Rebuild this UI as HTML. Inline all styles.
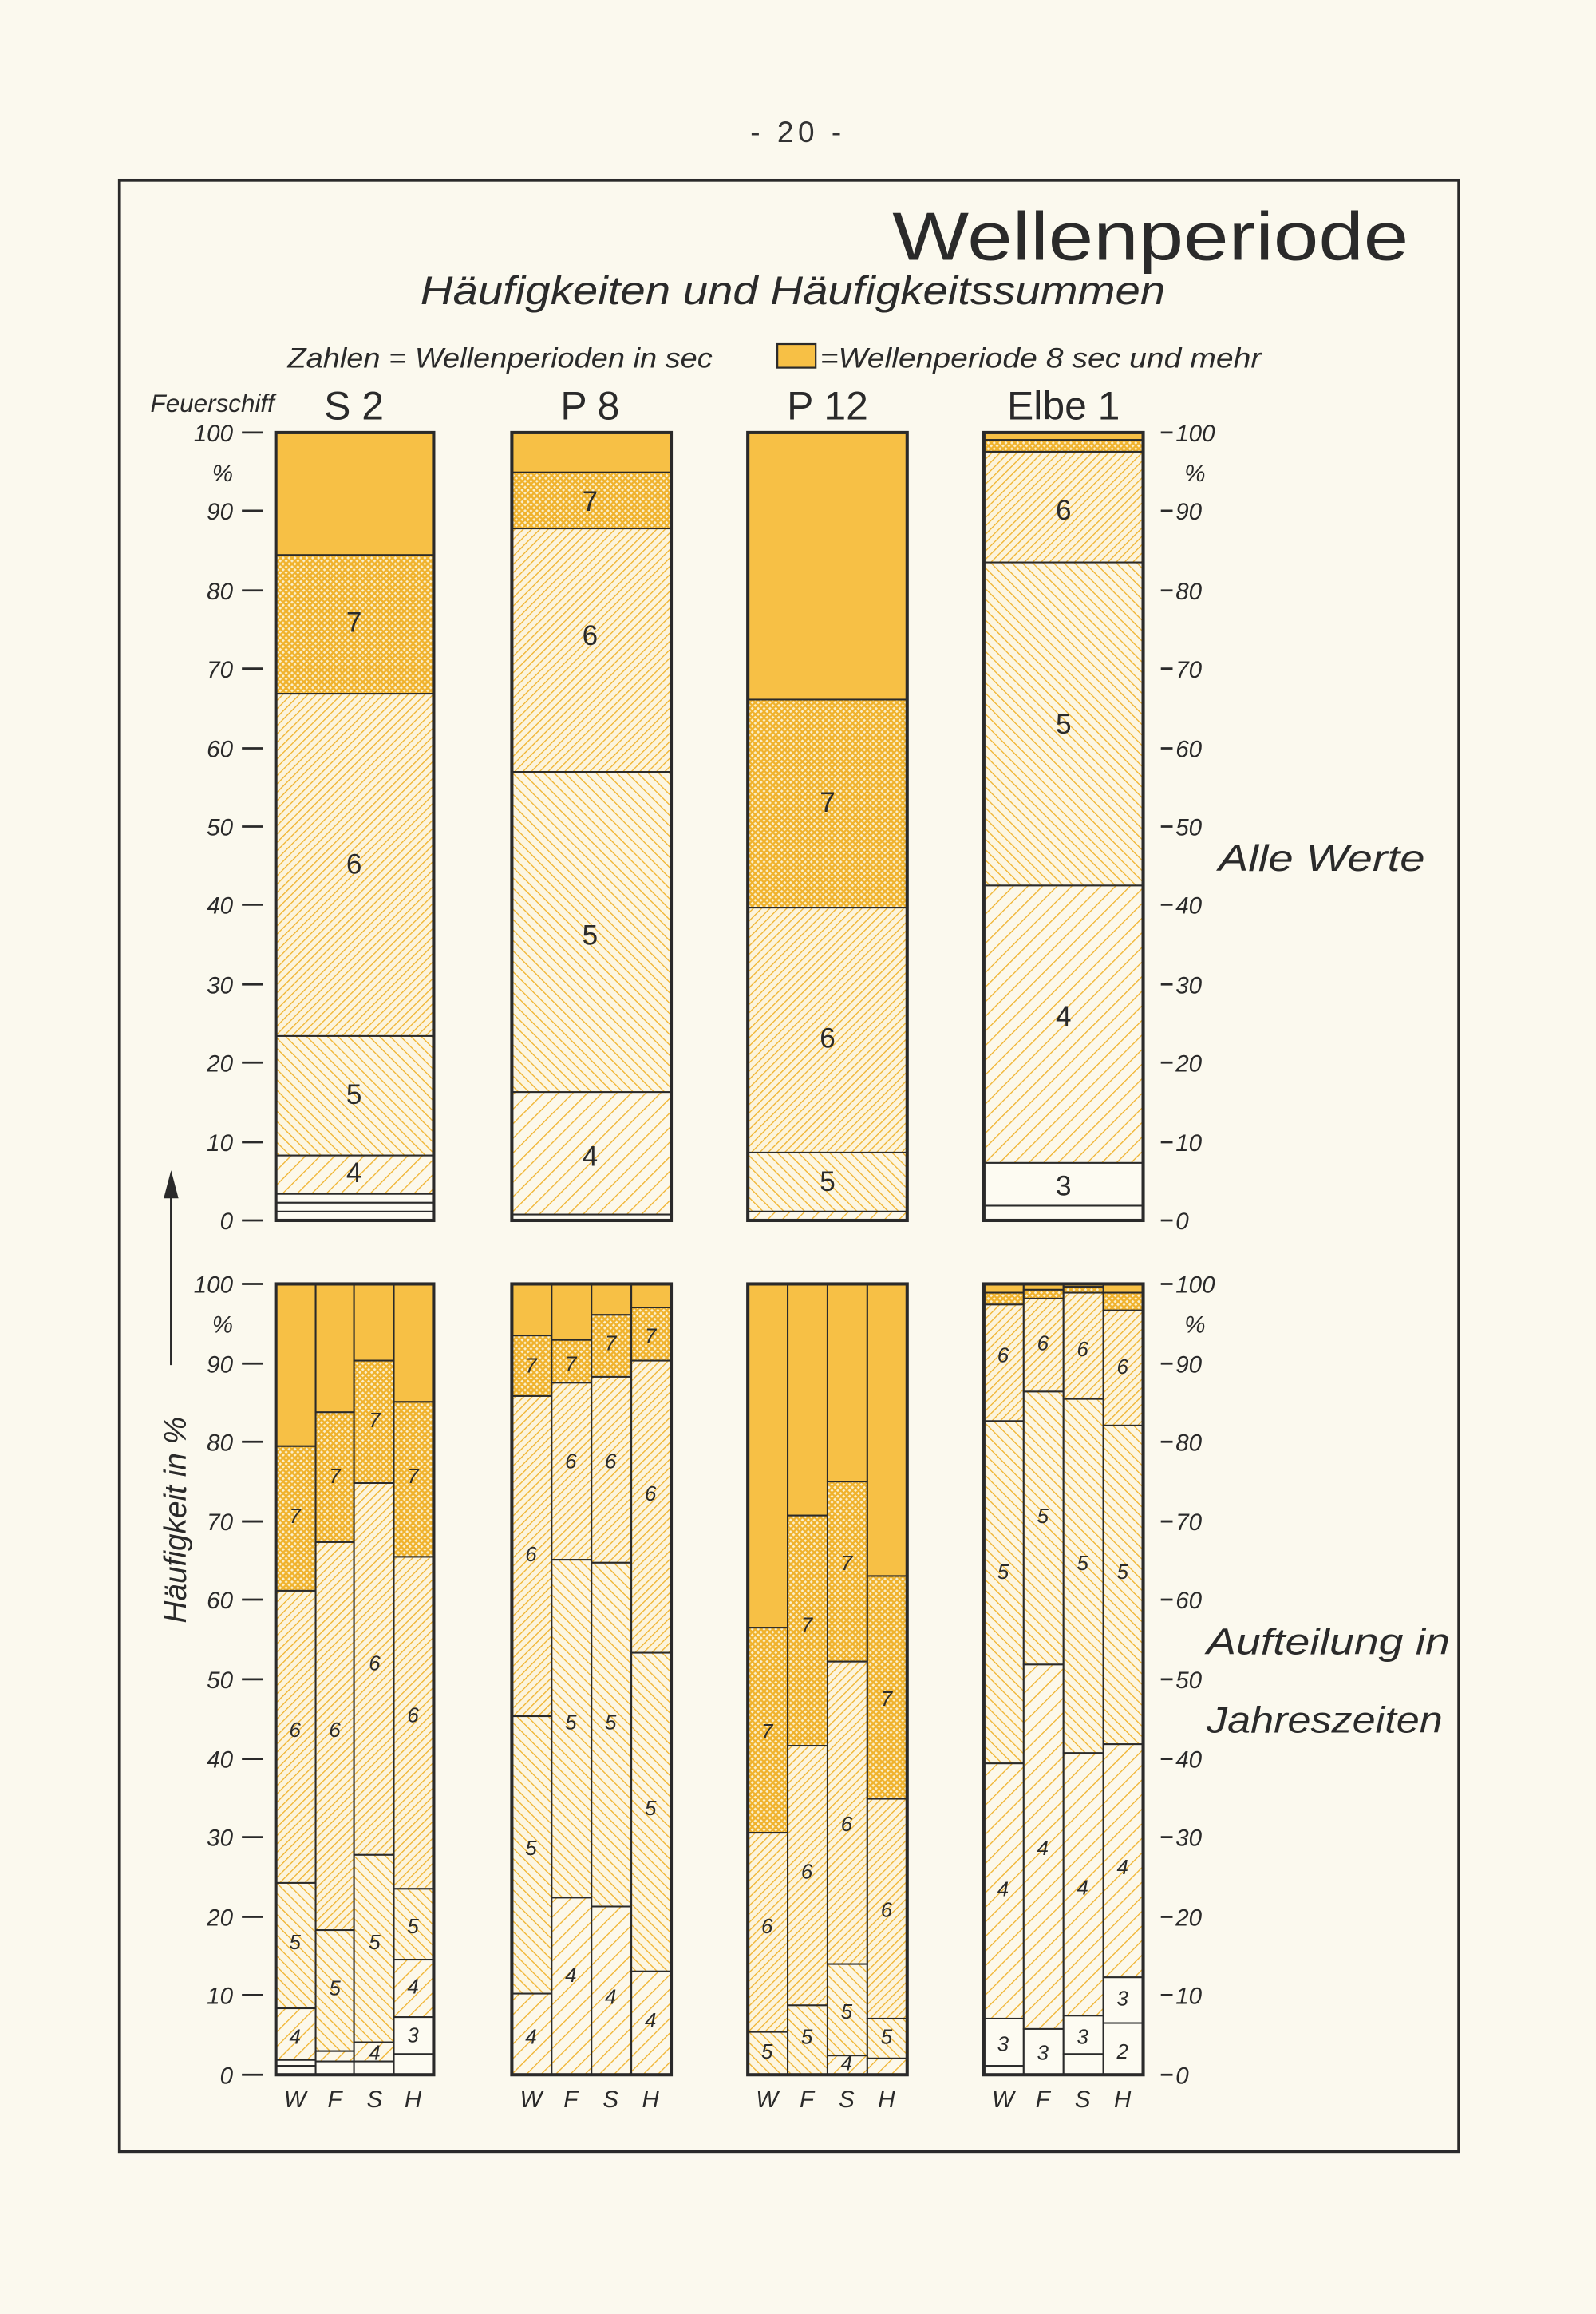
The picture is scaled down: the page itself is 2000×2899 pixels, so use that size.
<!DOCTYPE html>
<html><head><meta charset="utf-8"><style>html,body{margin:0;padding:0;background:#fbf9ee}svg{display:block}</style></head><body>
<svg width="2000" height="2899" viewBox="0 0 1082 1568" xmlns="http://www.w3.org/2000/svg" font-family="'Liberation Sans', 'DejaVu Sans', sans-serif">
<defs>
<pattern id="p7" width="4" height="4" patternUnits="userSpaceOnUse"><rect width="4" height="4" fill="#fbf0cc"/><path d="M-1,-1 L5,5 M5,-1 L-1,5" stroke="#f0b22c" stroke-width="1.3"/></pattern>
<pattern id="p6" width="4" height="4" patternUnits="userSpaceOnUse" patternTransform="rotate(45)"><rect width="4" height="4" fill="#fcf4dc"/><line x1="0" y1="0" x2="0" y2="4" stroke="#f0b22c" stroke-width="1.4"/></pattern>
<pattern id="p5" width="5" height="5" patternUnits="userSpaceOnUse" patternTransform="rotate(-45)"><rect width="5" height="5" fill="#fcf6e2"/><line x1="0" y1="0" x2="0" y2="5" stroke="#f0b22c" stroke-width="1.4"/></pattern>
<pattern id="p4" width="7" height="7" patternUnits="userSpaceOnUse" patternTransform="rotate(45)"><rect width="7" height="7" fill="#fcf8ea"/><line x1="0" y1="0" x2="0" y2="7" stroke="#f0b22c" stroke-width="1.4"/></pattern>
</defs>
<rect width="1082" height="1568" fill="#fbf9ee"/>
<text x="541" y="96" font-size="20" text-anchor="middle" fill="#333" letter-spacing="3">- 20 -</text>
<rect x="81" y="122" width="908" height="1336" fill="none" stroke="#2a2a2a" stroke-width="2"/>
<text x="605" y="176" font-size="46" fill="#2a2a2a" textLength="350" lengthAdjust="spacingAndGlyphs">Wellenperiode</text>
<text x="285" y="206" font-size="27" font-style="italic" fill="#2a2a2a" textLength="505" lengthAdjust="spacingAndGlyphs">Häufigkeiten und Häufigkeitssummen</text>
<text x="195" y="249" font-size="19" font-style="italic" fill="#2a2a2a" textLength="288" lengthAdjust="spacingAndGlyphs">Zahlen = Wellenperioden in sec</text>
<rect x="527" y="233" width="26" height="16" fill="#f7c045" stroke="#2a2a2a" stroke-width="1.2"/>
<text x="556" y="249" font-size="19" font-style="italic" fill="#2a2a2a" textLength="299" lengthAdjust="spacingAndGlyphs">=Wellenperiode 8 sec und mehr</text>
<text x="102" y="279" font-size="17" font-style="italic" fill="#2a2a2a">Feuerschiff</text>
<g font-size="27" text-anchor="middle" fill="#2a2a2a">
<text x="240" y="284">S 2</text><text x="400" y="284">P 8</text><text x="561" y="284">P 12</text><text x="721" y="284">Elbe 1</text>
</g>
<g stroke="#2a2a2a" stroke-width="1.5">
<path d="M164,293h14M164,346h14M164,400h14M164,453h14M164,507h14M164,560h14M164,613h14M164,667h14M164,720h14M164,774h14M164,827h14"/>
<path d="M164,870h14M164,924h14M164,977h14M164,1031h14M164,1084h14M164,1138h14M164,1192h14M164,1245h14M164,1299h14M164,1352h14M164,1406h14"/>
<path d="M787,293h8M787,346h8M787,400h8M787,453h8M787,507h8M787,560h8M787,613h8M787,667h8M787,720h8M787,774h8M787,827h8"/>
<path d="M787,870h8M787,924h8M787,977h8M787,1031h8M787,1084h8M787,1138h8M787,1192h8M787,1245h8M787,1299h8M787,1352h8M787,1406h8"/>
</g>
<g font-size="16" font-style="italic" fill="#2a2a2a" text-anchor="end">
<text x="158" y="299">100</text><text x="158" y="326">%</text><text x="158" y="352">90</text><text x="158" y="406">80</text><text x="158" y="459">70</text><text x="158" y="513">60</text><text x="158" y="566">50</text><text x="158" y="619">40</text><text x="158" y="673">30</text><text x="158" y="726">20</text><text x="158" y="780">10</text><text x="158" y="833">0</text>
<text x="158" y="876">100</text><text x="158" y="903">%</text><text x="158" y="930">90</text><text x="158" y="983">80</text><text x="158" y="1037">70</text><text x="158" y="1090">60</text><text x="158" y="1144">50</text><text x="158" y="1198">40</text><text x="158" y="1251">30</text><text x="158" y="1305">20</text><text x="158" y="1358">10</text><text x="158" y="1412">0</text>
</g>
<g font-size="16" font-style="italic" fill="#2a2a2a">
<text x="797" y="299">100</text><text x="803" y="326">%</text><text x="797" y="352">90</text><text x="797" y="406">80</text><text x="797" y="459">70</text><text x="797" y="513">60</text><text x="797" y="566">50</text><text x="797" y="619">40</text><text x="797" y="673">30</text><text x="797" y="726">20</text><text x="797" y="780">10</text><text x="797" y="833">0</text>
<text x="797" y="876">100</text><text x="803" y="903">%</text><text x="797" y="930">90</text><text x="797" y="983">80</text><text x="797" y="1037">70</text><text x="797" y="1090">60</text><text x="797" y="1144">50</text><text x="797" y="1198">40</text><text x="797" y="1251">30</text><text x="797" y="1305">20</text><text x="797" y="1358">10</text><text x="797" y="1412">0</text>
</g>
<g font-size="25" font-style="italic" fill="#2a2a2a">
<text x="826" y="590" textLength="140" lengthAdjust="spacingAndGlyphs">Alle Werte</text>
<text x="818" y="1121" textLength="165" lengthAdjust="spacingAndGlyphs">Aufteilung in</text>
<text x="818" y="1174" textLength="160" lengthAdjust="spacingAndGlyphs">Jahreszeiten</text>
</g>
<text transform="translate(126,1030) rotate(-90)" font-size="21" font-style="italic" text-anchor="middle" fill="#2a2a2a">Häufigkeit in %</text>
<path d="M116,925 V800" stroke="#2a2a2a" stroke-width="1.5"/><path d="M111,812 L116,793 L121,812 Z" fill="#2a2a2a"/>

<g stroke="#2a2a2a" stroke-width="1.1">
<rect x="187" y="293" width="107" height="83" fill="#f7c045"/>
<rect x="187" y="376" width="107" height="94" fill="url(#p7)"/>
<rect x="187" y="470" width="107" height="232" fill="url(#p6)"/>
<rect x="187" y="702" width="107" height="81" fill="url(#p5)"/>
<rect x="187" y="783" width="107" height="26" fill="url(#p4)"/>
<rect x="187" y="809" width="107" height="6" fill="#fdfbf2"/>
<rect x="187" y="815" width="107" height="6" fill="#fdfbf2"/>
<rect x="187" y="821" width="107" height="6" fill="#fdfbf2"/>
<rect x="347" y="293" width="108" height="27" fill="#f7c045"/>
<rect x="347" y="320" width="108" height="38" fill="url(#p7)"/>
<rect x="347" y="358" width="108" height="165" fill="url(#p6)"/>
<rect x="347" y="523" width="108" height="217" fill="url(#p5)"/>
<rect x="347" y="740" width="108" height="83" fill="url(#p4)"/>
<rect x="347" y="823" width="108" height="4" fill="#fdfbf2"/>
<rect x="507" y="293" width="108" height="181" fill="#f7c045"/>
<rect x="507" y="474" width="108" height="141" fill="url(#p7)"/>
<rect x="507" y="615" width="108" height="166" fill="url(#p6)"/>
<rect x="507" y="781" width="108" height="40" fill="url(#p5)"/>
<rect x="507" y="821" width="108" height="6" fill="url(#p4)"/>
<rect x="667" y="293" width="108" height="5" fill="#f7c045"/>
<rect x="667" y="298" width="108" height="8" fill="url(#p7)"/>
<rect x="667" y="306" width="108" height="75" fill="url(#p6)"/>
<rect x="667" y="381" width="108" height="219" fill="url(#p5)"/>
<rect x="667" y="600" width="108" height="188" fill="url(#p4)"/>
<rect x="667" y="788" width="108" height="29" fill="#fdfbf2"/>
<rect x="667" y="817" width="108" height="10" fill="#fdfbf2"/>

<rect x="187" y="870" width="27" height="110" fill="#f7c045"/><rect x="187" y="980" width="27" height="98" fill="url(#p7)"/><rect x="187" y="1078" width="27" height="198" fill="url(#p6)"/><rect x="187" y="1276" width="27" height="85" fill="url(#p5)"/><rect x="187" y="1361" width="27" height="35" fill="url(#p4)"/><rect x="187" y="1396" width="27" height="4" fill="#fdfbf2"/><rect x="187" y="1400" width="27" height="6" fill="#fdfbf2"/>
<rect x="214" y="870" width="26" height="87" fill="#f7c045"/><rect x="214" y="957" width="26" height="88" fill="url(#p7)"/><rect x="214" y="1045" width="26" height="263" fill="url(#p6)"/><rect x="214" y="1308" width="26" height="82" fill="url(#p5)"/><rect x="214" y="1390" width="26" height="7" fill="url(#p4)"/><rect x="214" y="1397" width="26" height="9" fill="#fdfbf2"/>
<rect x="240" y="870" width="27" height="52" fill="#f7c045"/><rect x="240" y="922" width="27" height="83" fill="url(#p7)"/><rect x="240" y="1005" width="27" height="252" fill="url(#p6)"/><rect x="240" y="1257" width="27" height="127" fill="url(#p5)"/><rect x="240" y="1384" width="27" height="13" fill="url(#p4)"/><rect x="240" y="1397" width="27" height="9" fill="#fdfbf2"/>
<rect x="267" y="870" width="27" height="80" fill="#f7c045"/><rect x="267" y="950" width="27" height="105" fill="url(#p7)"/><rect x="267" y="1055" width="27" height="225" fill="url(#p6)"/><rect x="267" y="1280" width="27" height="48" fill="url(#p5)"/><rect x="267" y="1328" width="27" height="39" fill="url(#p4)"/><rect x="267" y="1367" width="27" height="25" fill="#fdfbf2"/><rect x="267" y="1392" width="27" height="14" fill="#fdfbf2"/>
<rect x="347" y="870" width="27" height="35" fill="#f7c045"/><rect x="347" y="905" width="27" height="41" fill="url(#p7)"/><rect x="347" y="946" width="27" height="217" fill="url(#p6)"/><rect x="347" y="1163" width="27" height="188" fill="url(#p5)"/><rect x="347" y="1351" width="27" height="55" fill="url(#p4)"/>
<rect x="374" y="870" width="27" height="38" fill="#f7c045"/><rect x="374" y="908" width="27" height="29" fill="url(#p7)"/><rect x="374" y="937" width="27" height="120" fill="url(#p6)"/><rect x="374" y="1057" width="27" height="229" fill="url(#p5)"/><rect x="374" y="1286" width="27" height="120" fill="url(#p4)"/>
<rect x="401" y="870" width="27" height="21" fill="#f7c045"/><rect x="401" y="891" width="27" height="42" fill="url(#p7)"/><rect x="401" y="933" width="27" height="126" fill="url(#p6)"/><rect x="401" y="1059" width="27" height="233" fill="url(#p5)"/><rect x="401" y="1292" width="27" height="114" fill="url(#p4)"/>
<rect x="428" y="870" width="27" height="16" fill="#f7c045"/><rect x="428" y="886" width="27" height="36" fill="url(#p7)"/><rect x="428" y="922" width="27" height="198" fill="url(#p6)"/><rect x="428" y="1120" width="27" height="216" fill="url(#p5)"/><rect x="428" y="1336" width="27" height="70" fill="url(#p4)"/>
<rect x="507" y="870" width="27" height="233" fill="#f7c045"/><rect x="507" y="1103" width="27" height="139" fill="url(#p7)"/><rect x="507" y="1242" width="27" height="135" fill="url(#p6)"/><rect x="507" y="1377" width="27" height="29" fill="url(#p5)"/>
<rect x="534" y="870" width="27" height="157" fill="#f7c045"/><rect x="534" y="1027" width="27" height="156" fill="url(#p7)"/><rect x="534" y="1183" width="27" height="176" fill="url(#p6)"/><rect x="534" y="1359" width="27" height="47" fill="url(#p5)"/>
<rect x="561" y="870" width="27" height="134" fill="#f7c045"/><rect x="561" y="1004" width="27" height="122" fill="url(#p7)"/><rect x="561" y="1126" width="27" height="205" fill="url(#p6)"/><rect x="561" y="1331" width="27" height="62" fill="url(#p5)"/><rect x="561" y="1393" width="27" height="13" fill="url(#p4)"/>
<rect x="588" y="870" width="27" height="198" fill="#f7c045"/><rect x="588" y="1068" width="27" height="151" fill="url(#p7)"/><rect x="588" y="1219" width="27" height="149" fill="url(#p6)"/><rect x="588" y="1368" width="27" height="27" fill="url(#p5)"/><rect x="588" y="1395" width="27" height="11" fill="url(#p4)"/>
<rect x="667" y="870" width="27" height="6" fill="#f7c045"/><rect x="667" y="876" width="27" height="8" fill="url(#p7)"/><rect x="667" y="884" width="27" height="79" fill="url(#p6)"/><rect x="667" y="963" width="27" height="232" fill="url(#p5)"/><rect x="667" y="1195" width="27" height="173" fill="url(#p4)"/><rect x="667" y="1368" width="27" height="32" fill="#fdfbf2"/><rect x="667" y="1400" width="27" height="6" fill="#fdfbf2"/>
<rect x="694" y="870" width="27" height="4" fill="#f7c045"/><rect x="694" y="874" width="27" height="6" fill="url(#p7)"/><rect x="694" y="880" width="27" height="63" fill="url(#p6)"/><rect x="694" y="943" width="27" height="185" fill="url(#p5)"/><rect x="694" y="1128" width="27" height="247" fill="url(#p4)"/><rect x="694" y="1375" width="27" height="31" fill="#fdfbf2"/>
<rect x="721" y="870" width="27" height="2" fill="#f7c045"/><rect x="721" y="872" width="27" height="4" fill="url(#p7)"/><rect x="721" y="876" width="27" height="72" fill="url(#p6)"/><rect x="721" y="948" width="27" height="240" fill="url(#p5)"/><rect x="721" y="1188" width="27" height="178" fill="url(#p4)"/><rect x="721" y="1366" width="27" height="26" fill="#fdfbf2"/><rect x="721" y="1392" width="27" height="14" fill="#fdfbf2"/>
<rect x="748" y="870" width="27" height="6" fill="#f7c045"/><rect x="748" y="876" width="27" height="12" fill="url(#p7)"/><rect x="748" y="888" width="27" height="78" fill="url(#p6)"/><rect x="748" y="966" width="27" height="216" fill="url(#p5)"/><rect x="748" y="1182" width="27" height="158" fill="url(#p4)"/><rect x="748" y="1340" width="27" height="31" fill="#fdfbf2"/><rect x="748" y="1371" width="27" height="35" fill="#fdfbf2"/>
</g>
<g fill="none" stroke="#2a2a2a" stroke-width="2.2">
<rect x="187" y="293" width="107" height="534"/><rect x="347" y="293" width="108" height="534"/><rect x="507" y="293" width="108" height="534"/><rect x="667" y="293" width="108" height="534"/>
<rect x="187" y="870" width="107" height="536"/><rect x="347" y="870" width="108" height="536"/><rect x="507" y="870" width="108" height="536"/><rect x="667" y="870" width="108" height="536"/>
</g>
<g font-size="19" text-anchor="middle" fill="#2a2a2a">
<text x="240" y="428">7</text><text x="240" y="592">6</text><text x="240" y="748">5</text><text x="240" y="801">4</text>
<text x="400" y="346">7</text><text x="400" y="437">6</text><text x="400" y="640">5</text><text x="400" y="790">4</text>
<text x="561" y="550">7</text><text x="561" y="710">6</text><text x="561" y="807">5</text>
<text x="721" y="352">6</text><text x="721" y="497">5</text><text x="721" y="695">4</text><text x="721" y="810">3</text>
</g>
<g font-size="14" text-anchor="middle" fill="#2a2a2a" font-style="italic">
<text x="200" y="1385">4</text><text x="200" y="1321">5</text><text x="200" y="1177">6</text><text x="200" y="1032">7</text>
<text x="227" y="1352">5</text><text x="227" y="1177">6</text><text x="227" y="1005">7</text>
<text x="254" y="1396">4</text><text x="254" y="1321">5</text><text x="254" y="1132">6</text><text x="254" y="967">7</text>
<text x="280" y="1384">3</text><text x="280" y="1351">4</text><text x="280" y="1310">5</text><text x="280" y="1167">6</text><text x="280" y="1005">7</text>
<text x="360" y="1385">4</text><text x="360" y="1257">5</text><text x="360" y="1058">6</text><text x="360" y="930">7</text>
<text x="387" y="1343">4</text><text x="387" y="1172">5</text><text x="387" y="995">6</text><text x="387" y="929">7</text>
<text x="414" y="1358">4</text><text x="414" y="1172">5</text><text x="414" y="995">6</text><text x="414" y="915">7</text>
<text x="441" y="1374">4</text><text x="441" y="1230">5</text><text x="441" y="1017">6</text><text x="441" y="910">7</text>
<text x="520" y="1395">5</text><text x="520" y="1310">6</text><text x="520" y="1178">7</text>
<text x="547" y="1385">5</text><text x="547" y="1273">6</text><text x="547" y="1106">7</text>
<text x="574" y="1403">4</text><text x="574" y="1368">5</text><text x="574" y="1241">6</text><text x="574" y="1064">7</text>
<text x="601" y="1385">5</text><text x="601" y="1299">6</text><text x="601" y="1156">7</text>
<text x="680" y="1390">3</text><text x="680" y="1285">4</text><text x="680" y="1070">5</text><text x="680" y="923">6</text>
<text x="707" y="1396">3</text><text x="707" y="1257">4</text><text x="707" y="1032">5</text><text x="707" y="915">6</text>
<text x="734" y="1385">3</text><text x="734" y="1284">4</text><text x="734" y="1064">5</text><text x="734" y="919">6</text>
<text x="761" y="1395">2</text><text x="761" y="1359">3</text><text x="761" y="1270">4</text><text x="761" y="1070">5</text><text x="761" y="931">6</text>
</g>
<g font-size="16" text-anchor="middle" fill="#2a2a2a" font-style="italic">
<text x="200" y="1428">W</text><text x="227" y="1428">F</text><text x="254" y="1428">S</text><text x="280" y="1428">H</text>
<text x="360" y="1428">W</text><text x="387" y="1428">F</text><text x="414" y="1428">S</text><text x="441" y="1428">H</text>
<text x="520" y="1428">W</text><text x="547" y="1428">F</text><text x="574" y="1428">S</text><text x="601" y="1428">H</text>
<text x="680" y="1428">W</text><text x="707" y="1428">F</text><text x="734" y="1428">S</text><text x="761" y="1428">H</text>
</g>
</svg>
</body></html>
